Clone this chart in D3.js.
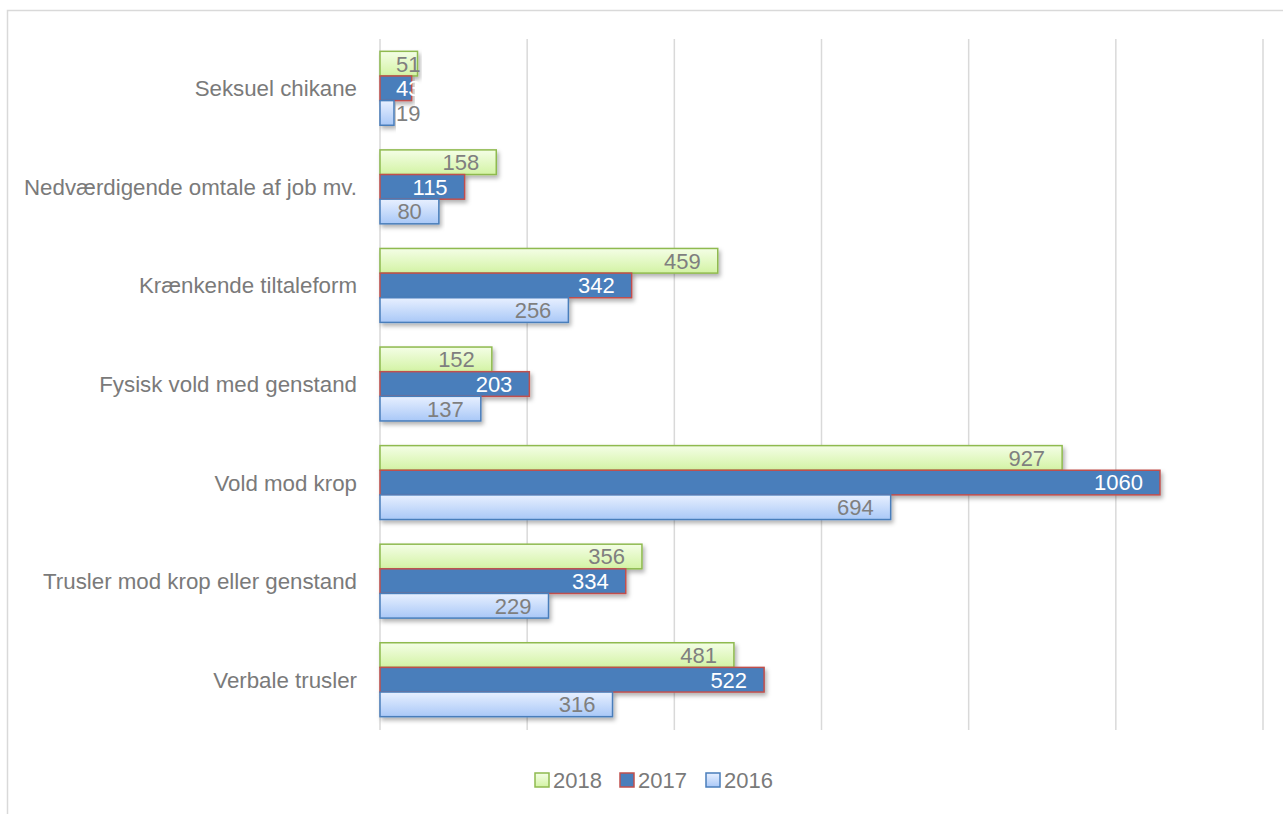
<!DOCTYPE html>
<html><head><meta charset="utf-8">
<script src="https://cdn.jsdelivr.net/npm/d3@7"></script>
<style>body{margin:0;background:#fff;} svg{display:block;font-family:"Liberation Sans",Arial,sans-serif;}</style>
</head><body>
<svg id="c" width="1283" height="814"></svg>
<script>
const categories = ["Seksuel chikane","Nedværdigende omtale af job mv.","Krænkende tiltaleform","Fysisk vold med genstand","Vold mod krop","Trusler mod krop eller genstand","Verbale trusler"];
const seriesNames = ["2018","2017","2016"];
const values2018 = [51,158,459,152,927,356,481];
const values2017 = [43,115,342,203,1060,334,522];
const values2016 = [19,80,256,137,694,229,316];
const xTicks = [0,200,400,600,800,1000,1200];

const seriesValues = [values2018, values2017, values2016];
const svg = d3.select("#c");
const defs = svg.append("defs");
function grad(id, c1, c2){
  const g = defs.append("linearGradient").attr("id",id).attr("x1",0).attr("y1",0).attr("x2",0).attr("y2",1);
  g.append("stop").attr("offset","0%").attr("stop-color",c1);
  g.append("stop").attr("offset","100%").attr("stop-color",c2);
}
grad("g2018","#f4fee6","#d3f3a4");
grad("g2016","#e8f0ff","#a9c8f7");
const f = defs.append("filter").attr("id","sh").attr("x","-5%").attr("y","-30%").attr("width","115%").attr("height","180%");
f.append("feDropShadow").attr("dx",2).attr("dy",3).attr("stdDeviation",2).attr("flood-color","#000").attr("flood-opacity",0.3);

const styles = [
  {fill:"url(#g2018)", stroke:"#8fba4f", text:"#7f7f7f", lfill:"url(#g2018)"},
  {fill:"#4a7ebb", stroke:"#c0504d", text:"#ffffff", lfill:"#4a7ebb"},
  {fill:"url(#g2016)", stroke:"#4a7ebb", text:"#7f7f7f", lfill:"url(#g2016)"}
];

// outer chart border
svg.append("path").attr("d","M7.5,820 V10.5 H1290").attr("fill","none").attr("stroke","#d9d9d9").attr("stroke-width",1.5);

const x = d3.scaleLinear().domain([0,1200]).range([380,1263]);
const y = d3.scaleBand().domain(categories).range([39,729]).paddingInner(0.25).paddingOuter(0.125);
const ys = d3.scaleBand().domain(seriesNames).range([0,y.bandwidth()]);

// gridlines
svg.append("g").selectAll("line").data(xTicks).join("line")
  .attr("x1",d=>x(d)).attr("x2",d=>x(d)).attr("y1",39).attr("y2",730)
  .attr("stroke","#d9d9d9").attr("stroke-width",1.5);

// category labels
svg.append("g").selectAll("text").data(categories).join("text")
  .attr("x",357).attr("y",d=>y(d)+y.bandwidth()/2).attr("dy","0.36em")
  .attr("text-anchor","end").attr("font-size",22.3).attr("fill","#7a7a7a").text(d=>d);

const groups = svg.append("g");
seriesNames.forEach((s,si)=>{
  const st = styles[si];
  groups.append("g").selectAll("rect").data(seriesValues[si]).join("rect")
    .attr("x",x(0)).attr("y",(d,i)=>y(categories[i])+ys(s))
    .attr("width",d=>x(d)-x(0)).attr("height",ys.bandwidth())
    .attr("fill",st.fill).attr("stroke",st.stroke).attr("stroke-width",1.5)
    .attr("filter","url(#sh)");
});
seriesNames.forEach((s,si)=>{
  const st = styles[si];
  const g = groups.append("g");
  seriesValues[si].forEach((v,i)=>{
    const t = g.append("text").attr("font-size",22).attr("fill",st.text)
      .attr("y",y(categories[i])+ys(s)+ys.bandwidth()/2).attr("dy","0.36em")
      .attr("text-anchor","end").text(v);
    const w = t.node().getComputedTextLength();
    t.attr("x", Math.max(x(v)-17, x(0)+16+w));
  });
});

// legend
const leg = svg.append("g");
const legX = [535,620,706];
seriesNames.forEach((s,si)=>{
  const st = styles[si];
  leg.append("rect").attr("x",legX[si]).attr("y",773).attr("width",14).attr("height",14)
    .attr("fill",st.lfill).attr("stroke",st.stroke).attr("stroke-width",1.5);
  leg.append("text").attr("x",legX[si]+18).attr("y",780).attr("dy","0.36em")
    .attr("font-size",22).attr("fill","#7a7a7a").text(s);
});
</script>
</body></html>
